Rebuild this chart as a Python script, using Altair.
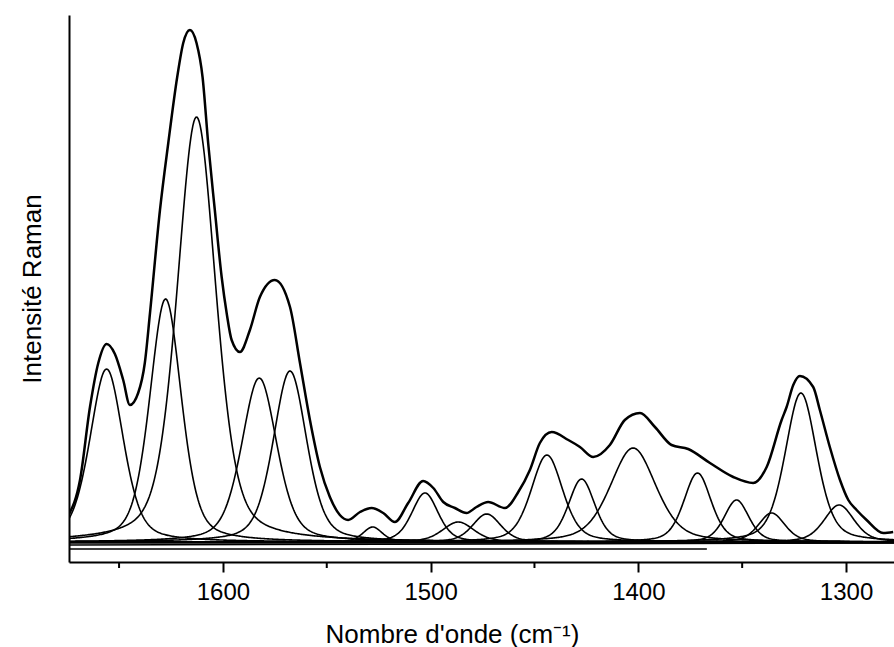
import altair as alt
import numpy as np
import pandas as pd

# ---- data ----
# Fitted bands: centre (cm-1), height (a.u.), FWHM (cm-1)
band_centres = [1656.0, 1627.6, 1612.7, 1582.5, 1567.7, 1527.9, 1502.7, 1486.7, 1473.0,
                1444.0, 1427.3, 1402.5, 1371.5, 1352.7, 1335.8, 1321.7, 1303.3]
band_heights = [173, 243, 425, 164, 171, 15, 49, 20, 28,
                87, 63, 94, 69, 42, 29, 149, 37]
band_fwhm = [19, 18, 22, 20, 19, 11, 15, 18, 16,
             18, 15, 26, 15.5, 14, 15, 18, 17]
LORENTZ_FRACTION = 0.4

# Measured spectrum (envelope), read point by point
spec_w = [1674.3, 1668.8, 1664.0, 1660.0, 1656.0, 1652.0, 1648.0, 1644.8, 1640.8, 1637.6,
          1635.1, 1630.3, 1626.3, 1622.0, 1619.1, 1615.9, 1612.7, 1609.8, 1607.1, 1603.9,
          1600.6, 1598.2, 1595.8, 1591.8, 1587.0, 1582.2, 1575.0, 1567.7, 1562.9, 1558.1,
          1553.3, 1548.5, 1543.7, 1539.7, 1534.0, 1528.4, 1522.8, 1517.2, 1510.8, 1503.6,
          1498.7, 1493.9, 1488.3, 1482.7, 1477.9, 1472.3, 1464.2, 1457.8, 1452.2, 1447.4,
          1441.7, 1433.7, 1428.1, 1421.7, 1413.7, 1406.5, 1399.2, 1392.0, 1384.0, 1376.0,
          1365.5, 1354.3, 1344.7, 1338.2, 1331.0, 1328.6, 1325.4, 1322.2, 1315.8, 1312.6,
          1307.8, 1302.9, 1298.9, 1294.9, 1290.1, 1282.1, 1277.3]
spec_i = [27, 62, 135, 179, 198, 188, 162, 137, 149, 179,
          229, 332, 399, 465, 499, 512, 499, 465, 399, 332,
          265, 229, 202, 190, 212, 245, 262, 235, 179, 122,
          75, 45, 27, 22, 30, 34, 29, 20, 39, 61,
          54, 40, 34, 29, 35, 40, 34, 50, 72, 99,
          110, 102, 95, 85, 97, 122, 129, 115, 97, 93,
          79, 65, 59, 75, 122, 135, 157, 166, 155, 132,
          95, 62, 42, 32, 22, 9, 10]

# Straight baseline segments drawn by the fitting program
base_w_start = [1674.1, 1674.1, 1674.1]
base_w_end = [1276.9, 1276.9, 1367.0]
base_i_start = [-1, -3, -7]
base_i_end = [-1, -1, -7]

major_ticks = [1600, 1500, 1400, 1300]
minor_ticks = [1650, 1550, 1450, 1350]
x_domain = [1674.1, 1276.9]
y_domain = [-20, 527]

# ---- build tables ----
grid = np.arange(1276.5, 1674.6, 0.5)
rows = []
for k, (c, h, f) in enumerate(zip(band_centres, band_heights, band_fwhm)):
    d = (grid - c) / f
    lor = 1.0 / (1.0 + 4.0 * d ** 2)
    gau = np.exp(-4.0 * np.log(2.0) * d ** 2)
    prof = h * (LORENTZ_FRACTION * lor + (1 - LORENTZ_FRACTION) * gau)
    rows.append(pd.DataFrame({"w": grid, "I": prof, "band": k}))
bands = pd.concat(rows, ignore_index=True)

spectrum = pd.DataFrame({"w": spec_w, "I": spec_i})
baselines = pd.DataFrame({"w": base_w_start, "w2": base_w_end,
                          "I": base_i_start, "I2": base_i_end})
minor = pd.DataFrame({"w": minor_ticks})

FONT = "Liberation Sans"
xscale = alt.Scale(domain=x_domain, nice=False, zero=False)
yscale = alt.Scale(domain=y_domain, nice=False, zero=False)

xaxis = alt.Axis(
    values=major_ticks, format="d", grid=False,
    domainColor="black", domainWidth=2,
    tickColor="black", tickWidth=2, tickSize=10,
    labelFont=FONT, labelFontSize=24, labelColor="black",
    labelBaseline="alphabetic", labelPadding=27, labelFlush=False,
    title="Nombre d'onde (cm⁻¹)", titleFont=FONT, titleFontSize=26,
    titleFontWeight="normal", titleColor="black",
    titleX=383, titleY=80, titleAlign="center", titleBaseline="alphabetic",
)
yaxis = alt.Axis(
    ticks=False, labels=False, grid=False,
    domainColor="black", domainWidth=2,
    title="Intensité Raman", titleFont=FONT, titleFontSize=26,
    titleFontWeight="normal", titleColor="black",
    titleX=-29, titleY=273.5, titleAngle=-90, titleAlign="center",
    titleBaseline="alphabetic",
)

X = alt.X("w:Q", scale=xscale, axis=xaxis)
Y = alt.Y("I:Q", scale=yscale, axis=yaxis)

band_layer = alt.Chart(bands).mark_line(
    color="black", strokeWidth=1.6, clip=True
).encode(x=X, y=Y, detail="band:N")

base_layer = alt.Chart(baselines).mark_rule(
    color="black", strokeWidth=1.4
).encode(x=X, x2="w2:Q", y=Y, y2="I2:Q")

spec_layer = alt.Chart(spectrum).mark_line(
    color="black", strokeWidth=2.5, interpolate="monotone", clip=True
).encode(x=X, y=Y, order=alt.Order("w:Q", sort="descending"))

minor_layer = alt.Chart(minor).mark_rule(
    color="black", strokeWidth=2
).encode(x=X, y=alt.value(547), y2=alt.value(553))

chart = alt.layer(band_layer, base_layer, spec_layer, minor_layer).properties(
    width=825, height=547,
    autosize=alt.AutoSizeParams(type="none"),
    padding={"left": 69, "top": 15, "right": 0, "bottom": 85},
    background="white",
).configure_view(stroke=None)

chart.save("out.html", embed_options={"renderer": "svg", "actions": False})
